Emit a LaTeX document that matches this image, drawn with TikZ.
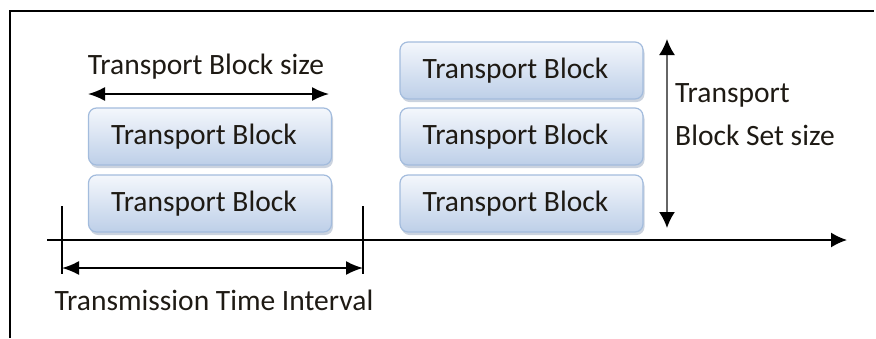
\documentclass[tikz,border=0pt]{standalone}
\usepackage{fontspec}
\setmainfont{Carlito}
\usetikzlibrary{arrows.meta,shadows}
\definecolor{tbtop}{HTML}{F4F7FC}
\definecolor{tbbot}{HTML}{BDCFE8}
\definecolor{tbdraw}{HTML}{A3BCDD}
\definecolor{tbshadow}{HTML}{8C9EB8}
\definecolor{txt}{HTML}{1E1A14}
\tikzset{
  tbbox/.style={rounded corners=8pt, draw=tbdraw, line width=1.2pt,
    top color=tbtop, bottom color=tbbot, minimum width=243pt, minimum height=57pt,
    font=\fontsize{29.5}{32}\selectfont, text=txt, inner sep=0pt,
    execute at end node={\hspace*{12pt}},
    drop shadow={shadow xshift=1.5pt, shadow yshift=-3pt, opacity=0.45, fill=tbshadow}},
  lbl/.style={font=\fontsize{29.5}{32}\selectfont, inner sep=0pt, text=txt},
  dimarrow/.style={line width=1.8pt, {Latex[length=17pt,width=14pt]}-{Latex[length=17pt,width=14pt]}},
  axisarrow/.style={line width=1.6pt, -{Latex[length=16pt,width=15pt]}},
  tickline/.style={line width=1.4pt}
}
\begin{document}
\begin{tikzpicture}[x=1pt,y=-1pt]
\useasboundingbox (0,0) rectangle (876,338);
% frame
\draw[line width=2pt] (10,338) -- (10,10.5) -- (874,10.5);
% left boxes
\node[tbbox] (l1) at (210,136.5) {Transport Block};
\node[tbbox] (l2) at (210,203.5) {Transport Block};
% right boxes
\node[tbbox] (r1) at (521.5,70.5) {Transport Block};
\node[tbbox] (r2) at (521.5,136.5) {Transport Block};
\node[tbbox] (r3) at (521.5,203.5) {Transport Block};
% TB size
\node[lbl] (tbs) at (206,67) {Transport Block size};
\coordinate (tbsl) at (88,94);
\coordinate (tbsr) at (329,94);
\draw[dimarrow] (tbsl) -- (tbsr);
% time axis
\coordinate (ax0) at (47,240);
\coordinate (ax1) at (847,240);
\draw[axisarrow] (ax0) -- (ax1);
% ticks
\coordinate (t1a) at (62,206);
\coordinate (t1b) at (62,274);
\coordinate (t2a) at (363,206);
\coordinate (t2b) at (363,274);
\draw[tickline] (t1a) -- (t1b);
\draw[tickline] (t2a) -- (t2b);
% TTI arrow
\coordinate (tti0) at (62,268);
\coordinate (tti1) at (363,268);
\draw[dimarrow] (tti0) -- (tti1);
\node[lbl] (tti) at (214,300) {Transmission Time Interval};
% TBS set size
\coordinate (v0) at (667,39);
\coordinate (v1) at (667,228);
\draw[line width=1.8pt, draw=black!60, {Latex[length=16pt,width=16pt,fill=black,color=black]}-{Latex[length=16pt,width=16pt,fill=black,color=black]}] (v0) -- (v1);
\node[lbl, anchor=base west] (tbss1) at (675,102) {Transport};
\node[lbl, anchor=base west] (tbss2) at (675,145) {Block Set size};
\end{tikzpicture}
\end{document}
